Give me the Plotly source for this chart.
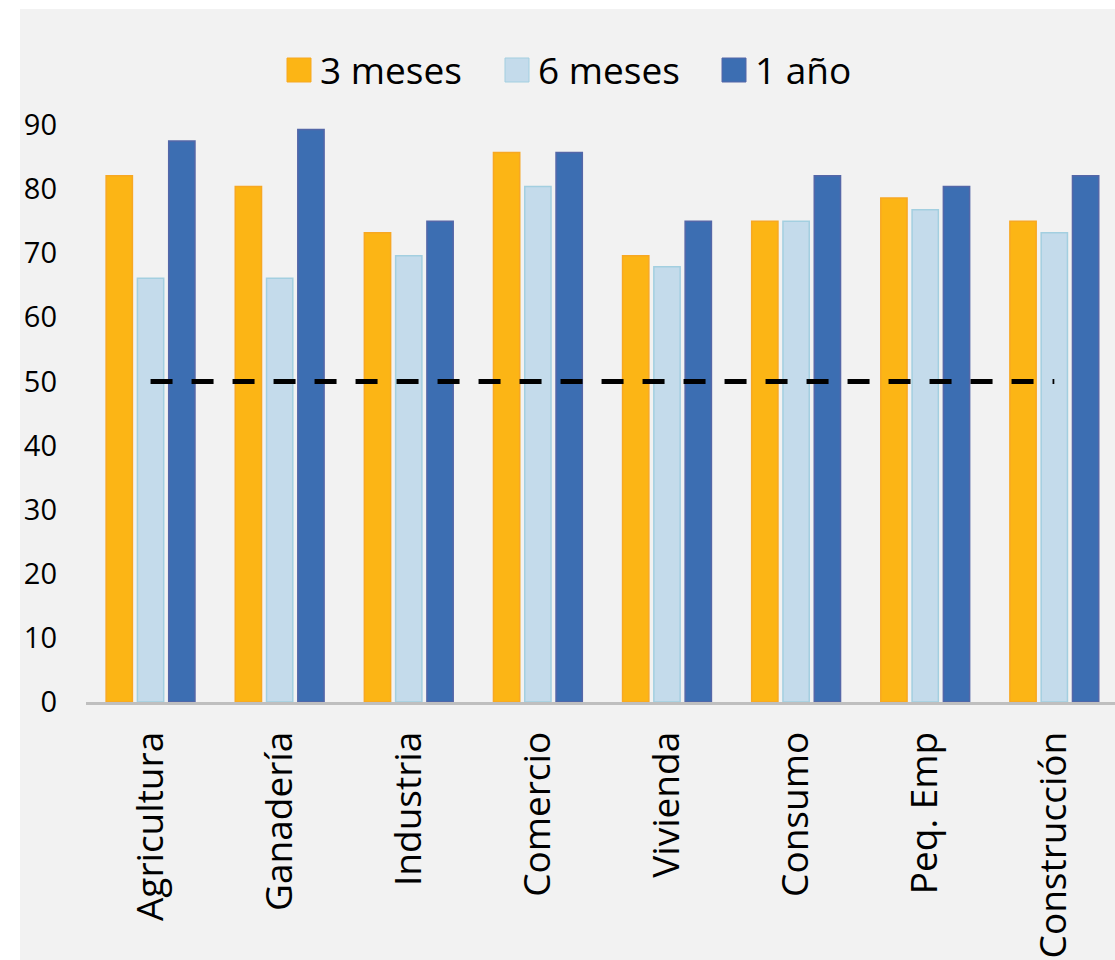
import plotly.graph_objects as go

categories = ["Agricultura", "Ganadería", "Industria", "Comercio", "Vivienda",
              "Consumo", "Peq. Emp", "Construcción"]
series_names = ["3 meses", "6 meses", "1 año"]
tres_meses = [82.1, 80.4, 73.2, 85.7, 69.6, 75.0, 78.6, 75.0]
seis_meses = [66.1, 66.1, 69.6, 80.4, 67.9, 75.0, 76.8, 73.2]
un_ano = [87.5, 89.3, 75.0, 85.7, 75.0, 82.1, 80.4, 82.1]
threshold = [50] * len(categories)
y_ticks = [0, 10, 20, 30, 40, 50, 60, 70, 80, 90]

fill_colors = ["#fcb515", "#c4dbeb", "#3c6eb2"]
edge_colors = ["#f7a823", "#a3cfe0", "#5467a8"]
FONT = "Open Sans"

# plot-area geometry in pixels (for converting legend placement to paper coords)
PL, PW, PB, PH = 86, 1029, 702, 577
def px(x):
    return (x - PL) / PW
def py(y):
    return (PB - y) / PH

fig = go.Figure()
for name, vals, fc, ec in zip(series_names, [tres_meses, seis_meses, un_ano], fill_colors, edge_colors):
    fig.add_trace(go.Bar(x=categories, y=vals, name=name, showlegend=False,
                         marker=dict(color=fc, line=dict(color=ec, width=1.5))))

fig.add_trace(go.Scatter(x=categories, y=threshold, mode="lines", showlegend=False,
                         line=dict(color="black", width=5, dash="22px,19px"),
                         hoverinfo="skip"))

shapes = [dict(type="rect", xref="paper", yref="paper", x0=px(20), x1=1.02,
               y0=-0.46, y1=py(9), fillcolor="#f2f2f2", line=dict(width=0),
               layer="below")]
annotations = []
legend_square_left = [287, 505, 722]
for name, fc, ec, x0 in zip(series_names, fill_colors, edge_colors, legend_square_left):
    shapes.append(dict(type="rect", xref="paper", yref="paper",
                       x0=px(x0), x1=px(x0 + 24), y0=py(82), y1=py(58),
                       fillcolor=fc, line=dict(color=ec, width=1)))
    annotations.append(dict(xref="paper", yref="paper", x=px(x0 + 31), y=py(70),
                            xanchor="left", yanchor="middle", text=name, showarrow=False,
                            font=dict(size=37, family=FONT, color="black")))

fig.update_layout(
    width=1115, height=960,
    margin=dict(l=PL, r=0, t=125, b=258),
    paper_bgcolor="white",
    plot_bgcolor="rgba(0,0,0,0)",
    barmode="group", bargap=0.273, bargroupgap=0.16,
    font=dict(family=FONT, color="black"),
    showlegend=False,
    shapes=shapes,
    annotations=annotations,
)
fig.update_xaxes(range=[-0.5, 7.47], showline=True, linecolor="#bfbfbf", linewidth=3,
                 tickangle=-90, tickfont=dict(size=37, family=FONT, color="black"),
                 ticks="", showgrid=False, ticklabelstandoff=12)
fig.update_yaxes(range=[0, 90], tickvals=y_ticks, showgrid=False, zeroline=False,
                 showline=False, tickfont=dict(size=29, family=FONT, color="black"),
                 ticks="", ticklabelstandoff=28)

fig.write_html("out.html")
